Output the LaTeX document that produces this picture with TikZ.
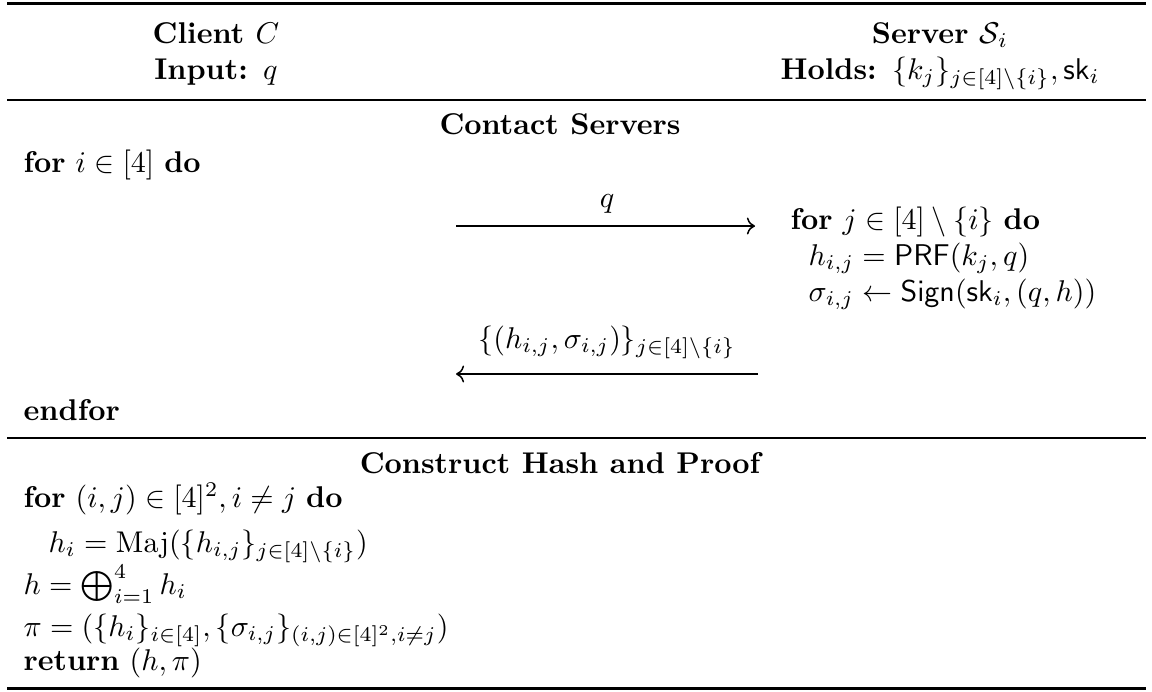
\documentclass[tikz,border=0pt]{standalone}
\usepackage{amsmath,amssymb}
\usepackage{tikz}
\usetikzlibrary{arrows.meta, positioning}

\begin{document}
\begin{tikzpicture}[
  x=0.3333pt, y=-0.3333pt,
  every node/.style={inner sep=0pt, font=\fontsize{10}{12}\selectfont},
  head/.style={anchor=base, font=\fontsize{10}{12}\selectfont\bfseries},
  stepline/.style={anchor=base west},
  heavyrule/.style={line width=1pt},
  lightrule/.style={line width=0.6pt},
  msg/.style={->, line width=0.5pt},
]
  \useasboundingbox (0,0) rectangle (1152,691);

  % header
  \draw[heavyrule] (7,3) -- (1146,3);
  \node[head] (client) at (216,43) {Client $C$};
  \node[head] (input) at (216,79) {Input: $q$};
  \node[head] (server) at (940,43) {Server $\mathcal{S}_i$};
  \node[head] (holds) at (940,79) {Holds: $\{k_j\}_{j\in[4]\setminus\{i\}}, \mathsf{sk}_i$};
  \draw[lightrule] (7,100) -- (1146,100);

  % contact servers
  \node[head] (contact) at (560,134) {Contact Servers};
  \node[stepline] (fori) at (23,172) {\textbf{for} $i \in [4]$ \textbf{do}};

  \coordinate (qa) at (456,226);
  \coordinate (qb) at (755,226);
  \draw[msg] (qa) -- (qb);
  \node[anchor=base] (qlab) at (607,207) {$q$};

  \node[stepline] (forj) at (790,229) {\textbf{for} $j \in [4]\setminus\{i\}$ \textbf{do}};
  \node[stepline] (hij) at (808,265) {$h_{i,j} = \mathsf{PRF}(k_j, q)$};
  \node[stepline] (sij) at (808,301) {$\sigma_{i,j} \gets \mathsf{Sign}(\mathsf{sk}_i, (q,h))$};

  \coordinate (ra) at (758,374);
  \coordinate (rb) at (456,374);
  \draw[msg] (ra) -- (rb);
  \node[anchor=base] (rlab) at (607,348) {$\{(h_{i,j},\sigma_{i,j})\}_{j\in[4]\setminus\{i\}}$};

  \node[stepline] (endf) at (23,420) {\textbf{endfor}};
  \draw[lightrule] (7,438) -- (1146,438);

  % construct hash and proof
  \node[head] (construct) at (560,473) {Construct Hash and Proof};
  \node[stepline] (forij) at (23,507) {\textbf{for} $(i,j)\in[4]^2, i\neq j$ \textbf{do}};
  \node[stepline] (maj) at (48,552) {$h_i = \mathrm{Maj}(\{h_{i,j}\}_{j\in[4]\setminus\{i\}})$};
  \node[stepline] (xor) at (23,594) {$h = \bigoplus_{i=1}^{4} h_i$};
  \node[stepline] (proof) at (23,636) {$\pi = (\{h_i\}_{i\in[4]}, \{\sigma_{i,j}\}_{(i,j)\in[4]^2, i\neq j})$};
  \node[stepline] (ret) at (23,670) {\textbf{return} $(h,\pi)$};
  \draw[heavyrule] (7,688) -- (1146,688);
\end{tikzpicture}
\end{document}
